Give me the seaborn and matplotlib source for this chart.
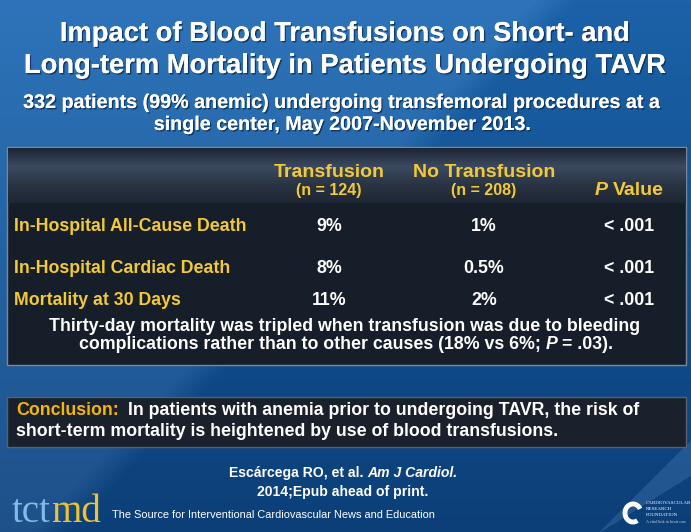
import numpy as np
import pandas as pd
import matplotlib
matplotlib.use("Agg")
import matplotlib.pyplot as plt
import matplotlib.patheffects as pe
from matplotlib.patches import Rectangle, Arc
import seaborn as sns

# Slide text and table values
title_lines = ["Impact of Blood Transfusions on Short- and",
               "Long-term Mortality in Patients Undergoing TAVR"]
subtitle_lines = ["332 patients (99% anemic) undergoing transfemoral procedures at a",
                  "single center, May 2007-November 2013."]
groups = ["Transfusion", "No Transfusion"]
group_n = ["(n = 124)", "(n = 208)"]
outcomes = ["In-Hospital All-Cause Death", "In-Hospital Cardiac Death", "Mortality at 30 Days"]
transfusion = ["9%", "8%", "11%"]
no_transfusion = ["1%", "0.5%", "2%"]
p_values = ["< .001", "< .001", "< .001"]
note_line1 = "Thirty-day mortality was tripled when transfusion was due to bleeding"
note_line2 = [("complications rather than to other causes (18% vs 6%;", "normal"),
              ("P", "italic"), ("= .03).", "normal")]
conclusion_label = "Conclusion:"
conclusion_lines = ["In patients with anemia prior to undergoing TAVR, the risk of",
                    "short-term mortality is heightened by use of blood transfusions."]
citation = [("Escárcega RO, et al.", "normal"), ("Am J Cardiol.", "italic")]
citation_line2 = "2014;Epub ahead of print."
tagline = "The Source for Interventional Cardiovascular News and Education"

table = pd.DataFrame({"outcome": outcomes, "Transfusion": transfusion,
                      "No Transfusion": no_transfusion, "P": p_values})

W, H = 691, 532
YELLOW = "#f3c935"
ORANGE = "#f2b705"
WHITE = "#ffffff"

sns.set_theme(style="white")
plt.rcParams["font.family"] = ["Liberation Sans", "DejaVu Sans"]

fig = plt.figure(figsize=(W / 100, H / 100), dpi=100)
ax = fig.add_axes([0, 0, 1, 1])
ax.set_xlim(0, W)
ax.set_ylim(H, 0)
ax.axis("off")

# background: vertical blue blend, a lighter diagonal sweep on the left
# and a pale crescent in the bottom right corner
vert = np.array(sns.blend_palette(["#1c62a8", "#11508f", "#0c3f78"], n_colors=H))
bg = np.repeat(vert[:, None, :], W, axis=1)
yy, xx = np.mgrid[0:H, 0:W]
light = np.clip((575 - xx - 0.95 * yy) / 40, 0, 1) * 0.07
crescent = ((xx + yy > 1130) & (xx + 1.6 * yy < 1451)) * 0.08
bg = np.clip(bg + (light + crescent)[..., None], 0, 1)
ax.imshow(bg, extent=(0, W, H, 0), aspect="auto", zorder=0)

renderer = fig.canvas.get_renderer()


def runs_line(runs, x, y, ha="center", size=12, color=WHITE, weight="bold", family=None):
    # draw several text runs on one baseline, separated by a space
    objs = []
    for txt, style in runs:
        kw = dict(fontsize=size, color=color, fontweight=weight, fontstyle=style, va="baseline")
        if family:
            kw["family"] = family
        objs.append(ax.text(0, y, txt, **kw))
    gap = 0.278 * size * 100 / 72
    widths = [t.get_window_extent(renderer).width for t in objs]
    total = sum(widths) + gap * (len(objs) - 1)
    start = x - total / 2 if ha == "center" else x
    for t, w in zip(objs, widths):
        t.set_x(start)
        start += w + gap
    return objs


shadow = [pe.withSimplePatchShadow(offset=(1, -1), shadow_rgbFace="#0a2a50", alpha=0.8), pe.Normal()]
for line, yb in zip(title_lines, [41, 73]):
    ax.text(W / 2, yb, line, ha="center", va="baseline", fontsize=19.7, fontweight="bold",
            color=WHITE, path_effects=shadow)
for line, yb in zip(subtitle_lines, [108, 130]):
    ax.text(W / 2 - 3, yb, line, ha="center", va="baseline", fontsize=14.2, fontweight="bold",
            color=WHITE, path_effects=shadow)

# table box
ax.add_patch(Rectangle((7, 147), 679, 218, facecolor="#161e2a", edgecolor="#7d8896", lw=1, zorder=1))
head = np.array(sns.blend_palette(["#1d2535", "#3b4a61", "#2a3444", "#1e2733"], n_colors=56))
ax.imshow(np.repeat(head[:, None, :], 2, axis=1), extent=(8, 685.5, 203, 148), aspect="auto", zorder=2)

col_x = [329, 484, 629]
for x, g, n in zip(col_x, groups, group_n):
    ax.text(x, 177, g, ha="center", va="baseline", fontsize=14, fontweight="bold", color=YELLOW, zorder=3)
    ax.text(x, 195, n, ha="center", va="baseline", fontsize=11.5, fontweight="bold", color=YELLOW, zorder=3)
for t in runs_line([("P", "italic"), ("Value", "normal")], col_x[2], 195, size=14, color=YELLOW):
    t.set_zorder(3)

row_y = [231, 273, 305]
for yb, (_, r) in zip(row_y, table.iterrows()):
    ax.text(14, yb, r["outcome"], ha="left", va="baseline", fontsize=12.8, fontweight="bold", color=YELLOW, zorder=3)
    ax.text(col_x[0], yb, r["Transfusion"], ha="center", va="baseline", fontsize=12.8, fontweight="bold", color=WHITE, zorder=3)
    ax.text(col_x[1], yb, r["No Transfusion"], ha="center", va="baseline", fontsize=12.8, fontweight="bold", color=WHITE, zorder=3)
    ax.text(col_x[2], yb, r["P"], ha="center", va="baseline", fontsize=12.8, fontweight="bold", color=WHITE, zorder=3)

ax.text(345, 331, note_line1, ha="center", va="baseline", fontsize=12.8, fontweight="bold", color=WHITE, zorder=3)
for t in runs_line(note_line2, 346, 349, size=12.8):
    t.set_zorder(3)

# conclusion box
ax.add_patch(Rectangle((7, 397), 679, 50, facecolor="#1a212c", edgecolor="#56616e", lw=1, zorder=1))
ax.text(16, 415, conclusion_label, ha="left", va="baseline", fontsize=12.8, fontweight="bold", color=ORANGE, zorder=3)
ax.text(128, 415, conclusion_lines[0], ha="left", va="baseline", fontsize=12.8, fontweight="bold", color=WHITE, zorder=3)
ax.text(16, 436, conclusion_lines[1], ha="left", va="baseline", fontsize=12.8, fontweight="bold", color=WHITE, zorder=3)

# citation
runs_line(citation, 343, 477, size=10.1)
ax.text(343, 496, citation_line2, ha="center", va="baseline", fontsize=10.1, fontweight="bold", color=WHITE)

# tctmd logo and tagline
runs_line([("tct", "normal")], 12, 522, ha="left", size=28, color="#7fbcea", weight="normal", family="Liberation Serif")
tct = ax.texts[-1]
md_x = 12 + tct.get_window_extent(renderer).width
ax.text(md_x, 522, "md", ha="left", va="baseline", fontsize=28, color="#f0c233", family="Liberation Serif")
ax.text(112, 518, tagline, ha="left", va="baseline", fontsize=7.95, color=WHITE)

# CRF mark, bottom right
ax.add_patch(Arc((633, 513), 16, 18, theta1=60, theta2=330, color=WHITE, lw=3.5))
for i, word in enumerate(["CARDIOVASCULAR", "RESEARCH", "FOUNDATION"]):
    ax.text(646, 503 + i * 6, word, ha="left", va="center", fontsize=3.6, color=WHITE, family="Liberation Serif")
ax.text(646, 522, "A vital link in heart care", ha="left", va="center", fontsize=3, color="#c8d4e0",
        family="Liberation Serif")

fig.savefig("out.png", dpi=100)
